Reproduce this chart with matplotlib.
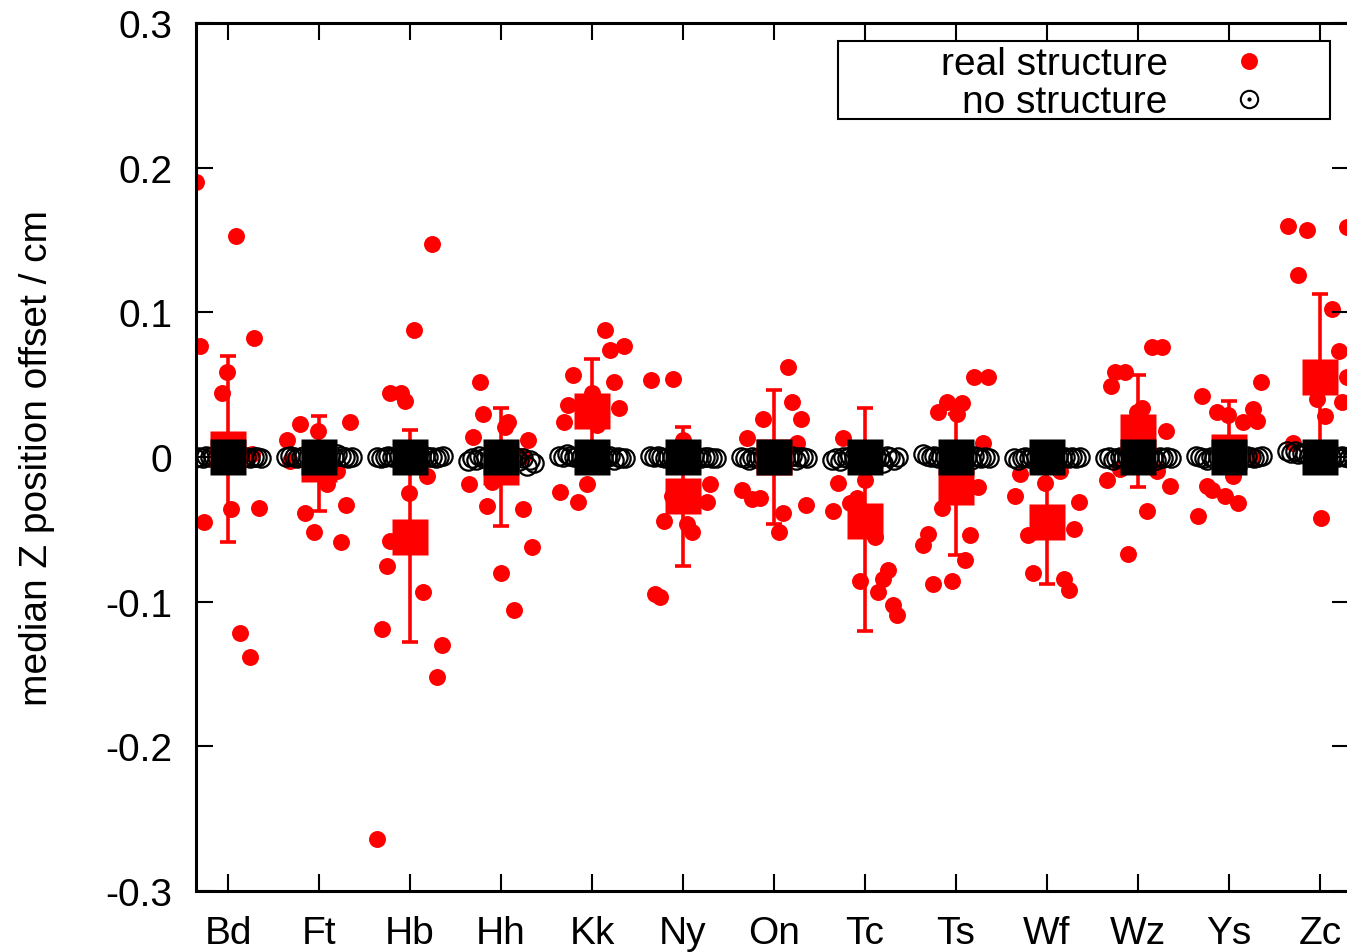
import numpy as np
import matplotlib
matplotlib.use('Agg')
import matplotlib.pyplot as plt
from matplotlib.patches import Rectangle
from matplotlib.ticker import FuncFormatter

plt.rcParams['font.family'] = ['Liberation Sans', 'DejaVu Sans']

# categories (stations)
stations = ['Bd', 'Ft', 'Hb', 'Hh', 'Kk', 'Ny', 'On', 'Tc', 'Ts', 'Wf', 'Wz', 'Ys', 'Zc']

# individual "real structure" offsets: x jitter (category units) and value (cm)
real_jitter = [
    [-0.35, -0.31, 0.09, 0.29, -0.07, -0.01, -0.26, 0.03, 0.13, 0.24, 0.34, 0.26],
    [-0.35, -0.21, -0.01, 0.34, -0.15, -0.05, 0.30, 0.24, 0.09, 0.20, -0.32],
    [0.24, 0.04, -0.22, -0.10, -0.05, -0.01, 0.19, -0.25, -0.22, 0.14, -0.31, 0.35, 0.30, -0.36],
    [-0.23, -0.20, -0.31, 0.08, 0.04, 0.30, -0.10, -0.35, -0.15, 0.24, 0.34, 0.0, 0.14, 0.24],
    [0.14, 0.20, 0.35, -0.21, 0.24, -0.26, -0.31, 0.30, 0.0, 0.05, -0.05, -0.35, -0.15],
    [-0.35, -0.11, 0.0, 0.30, 0.26, -0.12, -0.21, 0.04, 0.10, -0.31, -0.25],
    [0.15, 0.20, 0.30, -0.12, -0.30, 0.25, 0.35, 0.10, 0.05, -0.15, -0.35, -0.24],
    [-0.24, -0.30, -0.35, -0.09, -0.16, 0.0, 0.11, -0.05, 0.25, 0.20, 0.14, 0.31, 0.35],
    [0.20, 0.35, -0.20, -0.10, 0.07, 0.01, 0.30, 0.24, -0.15, 0.15, -0.31, -0.36, 0.10, -0.25, -0.04],
    [-0.30, -0.35, -0.02, -0.21, -0.15, 0.19, 0.24, 0.30, 0.35, 0.14],
    [0.15, 0.26, -0.25, -0.14, -0.30, 0.04, -0.01, 0.31, -0.34, 0.35, -0.20, 0.21, 0.10, -0.11],
    [-0.30, 0.35, -0.13, -0.01, 0.15, 0.26, 0.31, -0.24, -0.19, -0.04, 0.10, -0.34, 0.04, 0.25],
    [-0.35, -0.14, -0.24, 0.13, 0.30, 0.21, 0.30, 0.24, -0.03, 0.05, -0.30, 0.01],
]
real_values = [
    [0.190, 0.077, 0.153, 0.082, 0.044, 0.059, -0.045, -0.036, -0.122, -0.138, -0.035, 0.002],
    [0.012, 0.023, 0.018, 0.024, -0.039, -0.052, -0.033, -0.059, -0.019, -0.010, -0.003],
    [0.147, 0.088, 0.044, 0.044, 0.039, -0.025, -0.013, -0.075, -0.058, -0.093, -0.119, -0.130, -0.152, -0.264],
    [0.052, 0.030, 0.014, 0.024, 0.021, 0.012, -0.017, -0.019, -0.034, -0.036, -0.062, -0.080, -0.106, 0.001],
    [0.088, 0.074, 0.077, 0.057, 0.052, 0.036, 0.024, 0.034, 0.044, 0.022, -0.019, -0.024, -0.031],
    [0.053, 0.054, 0.012, -0.019, -0.031, -0.027, -0.044, -0.046, -0.052, -0.095, -0.097],
    [0.062, 0.038, 0.026, 0.026, 0.013, 0.010, -0.033, -0.039, -0.052, -0.028, -0.023, -0.029],
    [0.013, -0.018, -0.037, -0.028, -0.032, -0.016, -0.055, -0.086, -0.078, -0.084, -0.093, -0.102, -0.109],
    [0.055, 0.055, 0.031, 0.038, 0.037, 0.030, 0.010, -0.021, -0.035, -0.054, -0.053, -0.061, -0.071, -0.088, -0.086],
    [-0.012, -0.027, -0.018, -0.054, -0.080, -0.084, -0.092, -0.050, -0.031, -0.010],
    [0.076, 0.076, 0.059, 0.059, 0.049, 0.034, 0.031, 0.018, -0.016, -0.020, -0.008, -0.010, -0.037, -0.067],
    [0.042, 0.052, 0.031, 0.029, 0.024, 0.033, 0.025, -0.020, -0.023, -0.027, -0.032, -0.041, -0.013, 0.000],
    [0.160, 0.157, 0.126, 0.102, 0.159, 0.073, 0.055, 0.038, 0.040, 0.028, 0.010, -0.042],
]

# "no structure" offsets (open circles), same jitter for every station
none_jitter = [-0.36, -0.32, -0.28, -0.24, -0.20, -0.16, -0.12, -0.06, 0.0,
               0.06, 0.12, 0.16, 0.20, 0.24, 0.28, 0.32, 0.36]
none_values = [
    [-0.001, 0.000, -0.001, 0.001, 0.000, 0.001, 0.000, 0.000, 0.000, 0.000, 0.001, 0.000, 0.000, -0.001, 0.000, 0.000, -0.001],
    [0.000, 0.001, 0.000, -0.001, 0.000, 0.001, 0.000, 0.000, 0.000, 0.000, 0.001, 0.000, 0.002, 0.001, 0.000, -0.001, 0.000],
    [0.000, -0.001, 0.000, 0.001, 0.000, 0.000, 0.001, 0.000, 0.000, 0.000, 0.000, 0.001, 0.000, 0.000, -0.001, 0.000, 0.001],
    [-0.003, -0.001, -0.002, 0.001, -0.001, 0.000, -0.002, 0.000, 0.000, 0.000, -0.002, 0.000, -0.003, -0.001, -0.006, -0.002, -0.004],
    [0.001, 0.000, 0.002, 0.001, 0.000, 0.001, 0.000, 0.000, 0.000, 0.000, -0.001, 0.000, 0.001, -0.002, 0.000, -0.001, -0.001],
    [0.001, 0.000, 0.001, 0.000, -0.001, 0.000, 0.000, 0.000, 0.000, 0.000, 0.001, 0.000, -0.001, 0.000, 0.000, -0.001, -0.001],
    [0.000, -0.001, -0.002, 0.000, -0.001, 0.000, 0.000, 0.000, 0.000, 0.000, -0.001, 0.000, 0.001, -0.002, 0.000, 0.000, -0.001],
    [-0.002, -0.001, -0.003, 0.000, -0.001, 0.001, 0.000, 0.000, 0.000, 0.000, 0.001, 0.000, -0.004, 0.001, 0.000, -0.002, 0.000],
    [0.002, 0.001, 0.000, 0.001, -0.001, 0.000, 0.000, 0.000, 0.000, 0.000, 0.000, -0.002, 0.001, 0.000, -0.001, 0.000, -0.001],
    [-0.001, -0.002, -0.001, 0.000, -0.001, 0.000, 0.000, 0.000, 0.000, 0.000, 0.000, -0.001, 0.000, -0.001, 0.000, -0.001, 0.000],
    [-0.001, 0.000, -0.002, -0.001, 0.000, -0.001, 0.000, 0.000, 0.000, 0.000, 0.000, -0.001, -0.002, 0.000, -0.001, 0.000, -0.001],
    [0.001, 0.000, -0.001, -0.002, 0.000, -0.001, 0.000, 0.000, 0.000, 0.000, 0.000, -0.001, 0.001, 0.000, -0.001, 0.000, 0.001],
    [0.004, 0.003, 0.004, 0.002, 0.003, 0.002, 0.001, 0.000, 0.000, 0.000, 0.000, 0.001, 0.000, 0.001, 0.000, -0.001, 0.000],
]

# medians with error bar limits
real_median = [0.0055, -0.005, -0.055, -0.007, 0.032, -0.027, 0.0, -0.044, -0.021, -0.045, 0.017, 0.0035, 0.055]
real_upper = [0.070, 0.028, 0.019, 0.034, 0.068, 0.021, 0.046, 0.034, 0.030, 0.0, 0.057, 0.039, 0.113]
real_lower = [-0.059, -0.037, -0.128, -0.048, 0.0, -0.075, -0.046, -0.120, -0.068, -0.088, -0.021, -0.010, 0.0]
none_median = [0.0] * 13

W, H = 1347, 953
fig = plt.figure(figsize=(W / 100, H / 100), dpi=100)
ax = fig.add_axes([196 / W, (H - 892) / H, (1349 - 196) / W, (892 - 24) / H])

xpos = np.arange(1, len(stations) + 1)

for i, xc in enumerate(xpos):
    ax.plot(xc + np.array(real_jitter[i]), real_values[i], 'o', color='red',
            ms=12.2, mec='none', zorder=1)
    ax.plot(xc + np.array(none_jitter), none_values[i], 'o', mfc='none', mec='black',
            ms=13.2, mew=1.6, zorder=2)

med = np.array(real_median)
yerr = [med - np.array(real_lower), np.array(real_upper) - med]
ax.errorbar(xpos, med, yerr=yerr, fmt='s', color='red', ms=26, mec='none',
            elinewidth=2.6, capsize=6, capthick=2.6, zorder=3)
ax.plot(xpos, none_median, 's', color='black', ms=26, mec='none', zorder=4)

ax.set_xlim(0.648, 13 + 29 / 91)
ax.set_ylim(-0.3, 0.3)
ax.set_xticks(xpos)
ax.set_xticklabels(stations)
ax.set_yticks(np.arange(-0.3, 0.31, 0.1))
ax.yaxis.set_major_formatter(FuncFormatter(lambda v, p: '0' if abs(v) < 1e-9 else f'{v:.1f}'))
ax.tick_params(direction='in', length=12, width=1.5, labelsize=28,
               top=True, right=True, pad=17)
ax.tick_params(axis='x', pad=17)
for s in ax.spines.values():
    s.set_linewidth(2.2)

ax.set_ylabel('median Z position offset / cm', fontsize=28)
ax.yaxis.set_label_coords(-0.122, 0.5)

# legend drawn by hand (right-aligned labels, markers on the right)
ax.add_patch(Rectangle((0.5564, 0.8894), 0.4271, 0.0899, transform=ax.transAxes,
                       fill=True, facecolor='white', edgecolor='black', lw=1.5, zorder=6))
ax.text(0.8429, 0.9527, 'real structure', transform=ax.transAxes, ha='right', va='center',
        fontsize=28, zorder=7)
ax.text(0.8429, 0.9089, 'no structure', transform=ax.transAxes, ha='right', va='center',
        fontsize=28, zorder=7)
ax.plot([0.9132], [0.9562], 'o', color='red', ms=12.2, mec='none', transform=ax.transAxes,
        zorder=7, clip_on=False)
ax.plot([0.9132], [0.9124], 'o', mfc='none', mec='black', ms=12.5, mew=1.5,
        transform=ax.transAxes, zorder=7, clip_on=False)
ax.plot([0.9132], [0.9124], '.', color='black', ms=4, transform=ax.transAxes,
        zorder=7, clip_on=False)

fig.savefig('out.png', dpi=100)
